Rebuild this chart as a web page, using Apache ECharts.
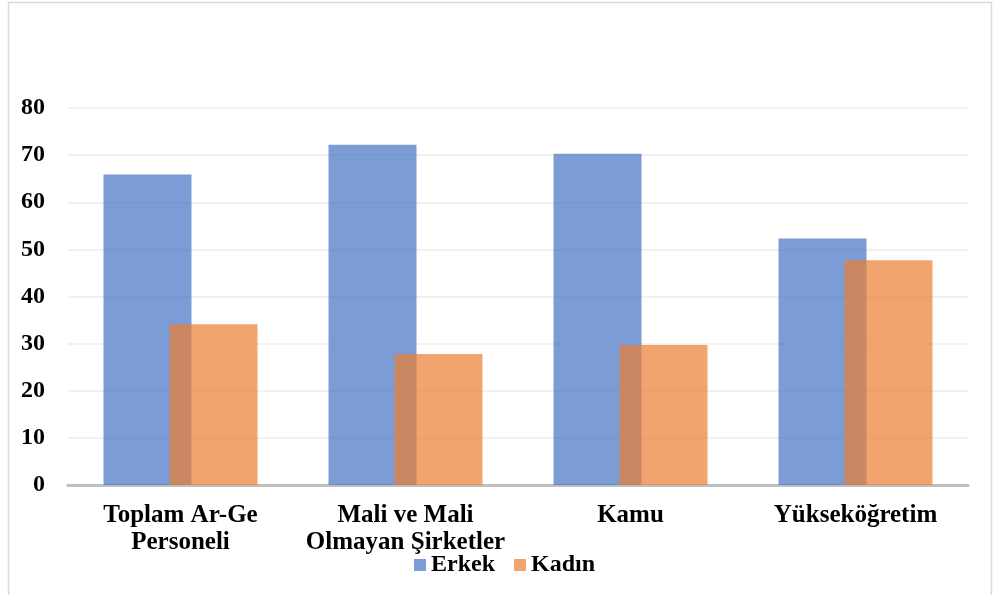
<!DOCTYPE html>
<html>
<head>
<meta charset="utf-8">
<script src="https://cdn.jsdelivr.net/npm/echarts@6/dist/echarts.min.js"></script>
<style>
html,body{margin:0;padding:0;background:#fff;}
#chart{width:998px;height:595px;}
</style>
</head>
<body>
<div id="chart"></div>
<script>
const categories = ["Toplam Ar-Ge\nPersoneli", "Mali ve Mali\nOlmayan Şirketler", "Kamu", "Yükseköğretim"];
const erkek = [65.9, 72.2, 70.3, 52.3];
const kadin = [34.1, 27.8, 29.7, 47.7];
const seriesNames = ["Erkek", "Kadın"];

const font = "'Liberation Serif', 'Times New Roman', serif";
const chart = echarts.init(document.getElementById('chart'), null, {renderer: 'canvas'});
chart.setOption({
  animation: false,
  backgroundColor: '#ffffff',
  textStyle: {fontFamily: font},
  graphic: [{
    type: 'rect',
    shape: {x: 8.5, y: 2.5, width: 983, height: 620},
    style: {fill: 'none', stroke: '#d9d9d9', lineWidth: 1.5},
    silent: true
  }],
  grid: {left: 68, right: 30, top: 108, bottom: 110, containLabel: false},
  legend: {
    data: seriesNames,
    left: 414,
    top: 553,
    padding: 0,
    itemWidth: 12,
    itemHeight: 12,
    itemGap: 19,
    icon: 'rect',
    textStyle: {fontFamily: font, fontWeight: 'bold', fontSize: 24, color: '#000'}
  },
  xAxis: {
    type: 'category',
    data: categories,
    axisLine: {lineStyle: {color: '#bfbfbf', width: 3}},
    axisTick: {show: false},
    axisLabel: {
      interval: 0,
      margin: 17,
      fontFamily: font, fontWeight: 'bold', fontSize: 25, color: '#000',
      lineHeight: 27
    }
  },
  yAxis: {
    type: 'value',
    min: 0, max: 80, interval: 10,
    axisLine: {show: false},
    axisTick: {show: false},
    splitLine: {lineStyle: {color: '#ededed', width: 1.5}},
    axisLabel: {
      margin: 23,
      fontFamily: font, fontWeight: 'bold', fontSize: 24, color: '#000'
    }
  },
  series: [
    {
      name: seriesNames[0], type: 'bar', data: erkek,
      barWidth: 88, barGap: '-25%',
      itemStyle: {color: 'rgba(68,114,196,0.7)'}
    },
    {
      name: seriesNames[1], type: 'bar', data: kadin,
      barWidth: 88,
      itemStyle: {color: 'rgba(237,125,49,0.7)'}
    }
  ]
});
</script>
</body>
</html>
